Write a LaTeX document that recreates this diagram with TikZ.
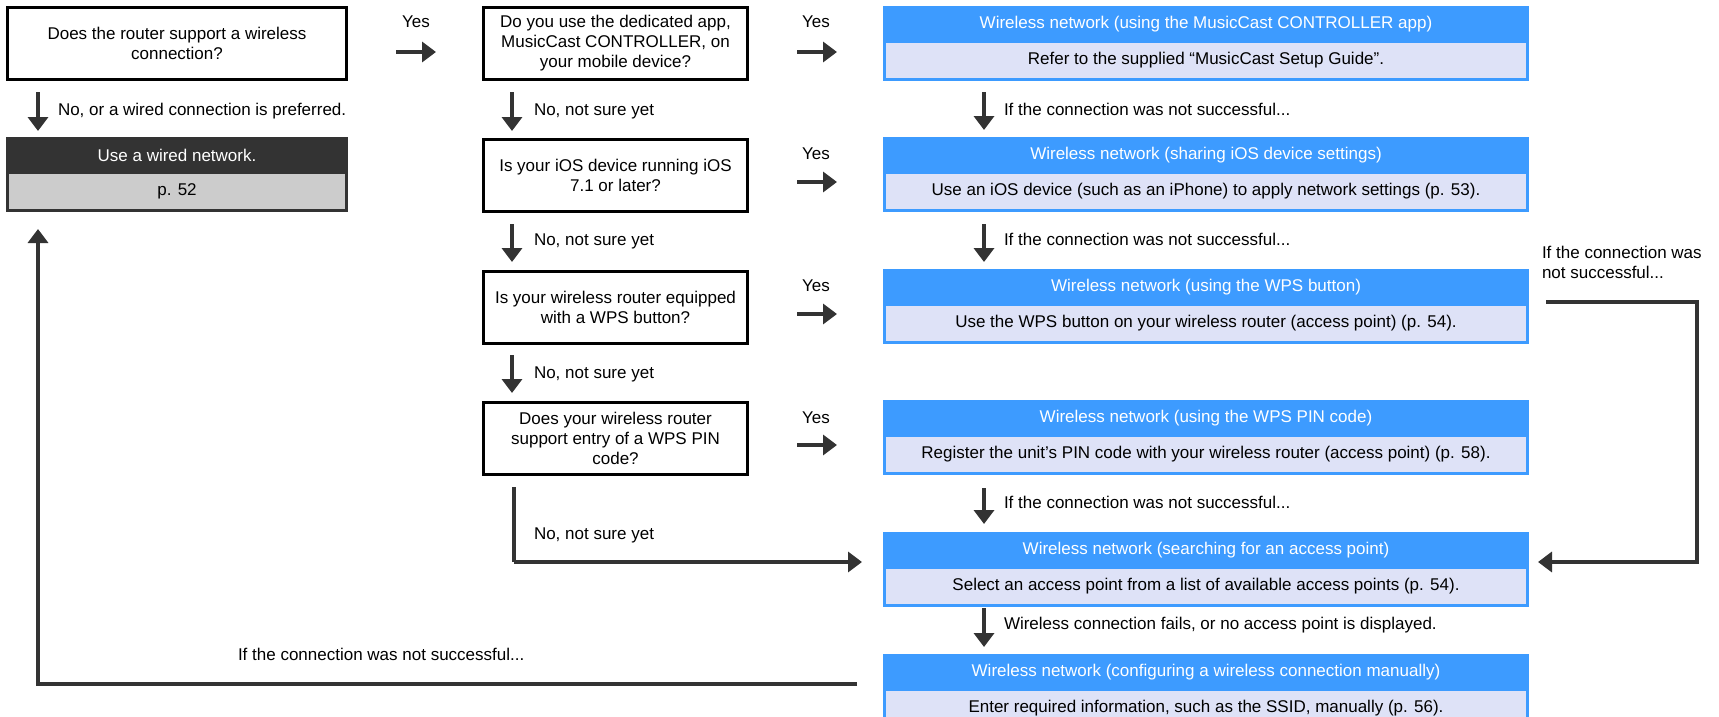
\documentclass[tikz,border=0pt]{standalone}
\usepackage{fontspec}
\setmainfont{Liberation Sans}
\usetikzlibrary{arrows.meta}
\definecolor{dk}{HTML}{333333}
\definecolor{bl}{HTML}{3D9BFF}
\definecolor{lav}{HTML}{DEE2F7}
\definecolor{gr}{HTML}{CCCCCC}
\begin{document}
\begin{tikzpicture}[x=1pt,y=-1pt,
  every node/.style={font=\fontsize{17}{20}\selectfont, inner sep=0pt, outer sep=0pt},
  qbox/.style={draw=black, line width=3pt, fill=white, minimum width=264pt, minimum height=72pt, align=center},
  bhead/.style={draw=bl, fill=bl, line width=3pt, text=white, minimum width=643pt, minimum height=34pt, anchor=north},
  bbody/.style={draw=bl, fill=lav, line width=3pt, minimum width=643pt, minimum height=38pt, anchor=north},
  whead/.style={draw=dk, fill=dk, line width=3pt, text=white, minimum width=339pt, minimum height=33.5pt, anchor=north},
  wbody/.style={draw=dk, fill=gr, line width=3pt, minimum width=339pt, minimum height=38.5pt, anchor=north},
  arr/.style={draw=dk, line width=3.5pt, -{Triangle[length=14pt,width=20pt]}},
  fline/.style={draw=dk, line width=3.5pt},
  lbl/.style={anchor=base west, text=black},
  yes/.style={anchor=base, text=black},
]
\clip (0,0) rectangle (1719,717);
\fill[white] (0,0) rectangle (1719,717);

% question boxes
\node[qbox, minimum width=339pt] (q1) at (177,43.5) {Does the router support a wireless\\connection?};
\node[qbox] (q2) at (615.5,43.5) {Do you use the dedicated app,\\MusicCast CONTROLLER, on\\your mobile device?};
\node[qbox] (q3) at (615.5,175) {Is your iOS device running iOS\\7.1 or later?};
\node[qbox] (q4) at (615.5,307) {Is your wireless router equipped\\with a WPS button?};
\node[qbox] (q5) at (615.5,438.5) {Does your wireless router\\support entry of a WPS PIN\\code?};

% wired box
\node[whead] (wh) at (177,138.5) {Use a wired network.};
\node[wbody] (wb) at (wh.south) {p. 52};

% blue boxes
\node[bhead] (b1h) at (1206,7.5) {Wireless network (using the MusicCast CONTROLLER app)};
\node[bbody] (b1b) at (b1h.south) {Refer to the supplied “MusicCast Setup Guide”.};
\node[bhead] (b2h) at (1206,138.5) {Wireless network (sharing iOS device settings)};
\node[bbody] (b2b) at (b2h.south) {Use an iOS device (such as an iPhone) to apply network settings (p. 53).};
\node[bhead] (b3h) at (1206,270.5) {Wireless network (using the WPS button)};
\node[bbody] (b3b) at (b3h.south) {Use the WPS button on your wireless router (access point) (p. 54).};
\node[bhead] (b4h) at (1206,401.5) {Wireless network (using the WPS PIN code)};
\node[bbody] (b4b) at (b4h.south) {Register the unit’s PIN code with your wireless router (access point) (p. 58).};
\node[bhead] (b5h) at (1206,533.5) {Wireless network (searching for an access point)};
\node[bbody] (b5b) at (b5h.south) {Select an access point from a list of available access points (p. 54).};
\node[bhead] (b6h) at (1206,655.5) {Wireless network (configuring a wireless connection manually)};
\node[bbody] (b6b) at (b6h.south) {Enter required information, such as the SSID, manually (p. 56).};

% Yes arrows
\coordinate (y1a) at (396,52);  \coordinate (y1b) at (436,52);
\coordinate (y2a) at (797,52);  \coordinate (y2b) at (837,52);
\coordinate (y3a) at (797,182); \coordinate (y3b) at (837,182);
\coordinate (y4a) at (797,314); \coordinate (y4b) at (837,314);
\coordinate (y5a) at (797,445); \coordinate (y5b) at (837,445);
\draw[arr] (y1a) -- (y1b);
\draw[arr] (y2a) -- (y2b);
\draw[arr] (y3a) -- (y3b);
\draw[arr] (y4a) -- (y4b);
\draw[arr] (y5a) -- (y5b);
\node[yes] (ty1) at (416,28) {Yes};
\node[yes] (ty2) at (816,28) {Yes};
\node[yes] (ty3) at (816,159.5) {Yes};
\node[yes] (ty4) at (816,291) {Yes};
\node[yes] (ty5) at (816,423) {Yes};

% vertical arrows left column
\draw[arr] (38,92) -- (38,131);
\node[lbl] (l1) at (58,115.5) {No, or a wired connection is preferred.};
\draw[arr] (512,92) -- (512,131);
\node[lbl] (l2) at (534,115.5) {No, not sure yet};
\draw[arr] (512,224) -- (512,262);
\node[lbl] (l3) at (534,245.5) {No, not sure yet};
\draw[arr] (512,355) -- (512,393);
\node[lbl] (l4) at (534,378) {No, not sure yet};

% vertical arrows right column
\draw[arr] (984,92) -- (984,130);
\node[lbl] (r1) at (1004,115) {If the connection was not successful...};
\draw[arr] (984,224) -- (984,262);
\node[lbl] (r2) at (1004,245.5) {If the connection was not successful...};
\draw[arr] (984,488) -- (984,524);
\node[lbl] (r3) at (1004,508.5) {If the connection was not successful...};
\draw[arr] (984,608) -- (984,647);
\node[lbl] (r4) at (1004,629) {Wireless connection fails, or no access point is displayed.};

% No from q5 to b5
\coordinate (n5a) at (514,487);
\coordinate (n5c) at (514,562);
\coordinate (n5b) at (862,562);
\draw[fline] (n5a) -- (n5c);
\draw[arr] (n5c) -- (n5b);
\node[lbl] (l5) at (534,539) {No, not sure yet};

% feedback from b3 to b5
\coordinate (fb1) at (1546,302);
\coordinate (fb2) at (1697,302);
\coordinate (fb3) at (1697,562);
\coordinate (fb4) at (1538,562);
\draw[arr] (fb1) -- (fb2) -- (fb3) -- (fb4);
\node[lbl] (lfb1) at (1542,258.5) {If the connection was};
\node[lbl] (lfb2) at (1542,278.5) {not successful...};

% feedback from b6 to wired
\coordinate (fw1) at (857,684);
\coordinate (fw2) at (38,684);
\coordinate (fw3) at (38,229);
\draw[arr] (fw1) -- (fw2) -- (fw3);
\node[lbl] (lfw) at (238,660) {If the connection was not successful...};
\end{tikzpicture}
\end{document}
